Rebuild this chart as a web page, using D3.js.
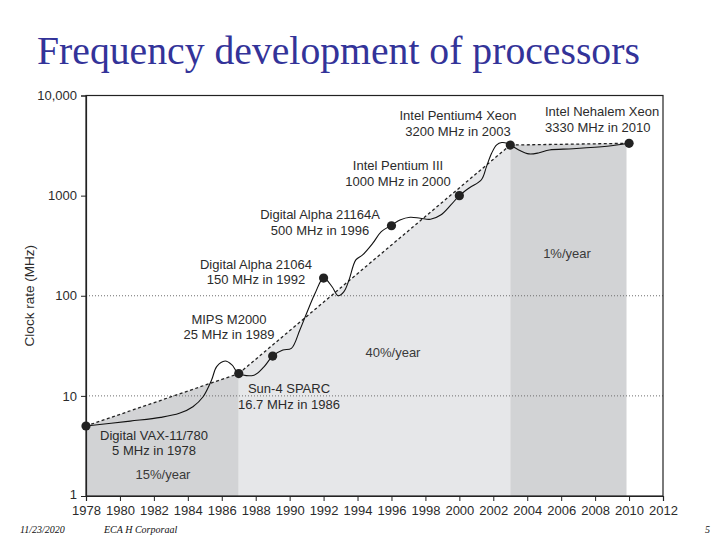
<!DOCTYPE html>
<html><head><meta charset="utf-8">
<script src="https://cdn.jsdelivr.net/npm/d3@7"></script>
<style>
html,body{margin:0;padding:0;background:#fff;}
svg{display:block;}
</style></head>
<body>
<svg id="chart" width="720" height="540"></svg>
<script>
// ---------- DATA ----------
const processorNames = ["Digital VAX-11/780", "Sun-4 SPARC", "MIPS M2000", "Digital Alpha 21064",
  "Digital Alpha 21164A", "Intel Pentium III", "Intel Pentium4 Xeon", "Intel Nehalem Xeon"];
const processorLabelYears = [1978, 1986, 1989, 1992, 1996, 2000, 2003, 2010];
const processorPlotYears = [1978, 1987, 1989, 1992, 1996, 2000, 2003, 2010];
const processorMHz = [5, 16.7, 25, 150, 500, 1000, 3200, 3330];

const curveYears = [1978, 1980.6, 1982.4, 1983.5, 1984.3, 1984.9, 1985.4, 1985.7, 1986.2, 1986.6, 1987,
  1987.9, 1988.5, 1989, 1989.6, 1990.1, 1990.6, 1991, 1991.5, 1992, 1992.5, 1992.85, 1993.2, 1993.5, 1993.9,
  1994.3, 1994.9, 1995.4, 1996, 1996.5, 1997.1, 1997.7, 1998.3, 1998.9, 1999.5, 2000, 2000.6, 2001.3,
  2001.6, 2001.9, 2002.2, 2002.5, 2002.8, 2003, 2003.5, 2004.1, 2004.7, 2005.3, 2006.7, 2008.7, 2010];
const curveMHz = [5, 5.6, 6.1, 6.7, 7.8, 9.8, 14.4, 19.6, 22.3, 20.4, 16.7,
  16.1, 19.6, 25, 28.7, 29.8, 45.5, 66.9, 106, 150, 123, 100, 110, 144, 228,
  256, 335, 437, 506, 571, 608, 594, 580, 640, 807, 1000, 1200, 1440,
  1950, 2650, 3210, 3390, 3340, 3200, 2860, 2610, 2680, 2860, 2940, 3110, 3330];

// growth-rate eras (trend segments between processors)
const eraLabels = ["15%/year", "40%/year", "1%/year"];
const eraStartIdx = [0, 1, 6];
const eraEndIdx = [1, 6, 7];
const eraShadeEnd = [1987, 2003, 2009.85];

const yTickValues = [1, 10, 100, 1000, 10000];
const yTickLabels = ["1", "10", "100", "1000", "10,000"];
const xTickValues = d3.range(1978, 2013, 2);
const gridValues = [10, 100];

// ---------- LAYOUT ----------
const W = 720, H = 540;
const m = {left: 86, right: 57, top: 95.5, bottom: 44};
const svg = d3.select("#chart");
const x = d3.scaleLinear().domain([1978, 2012]).range([m.left, W - m.right]);
const y = d3.scaleLog().domain([1, 10000]).range([H - m.bottom, m.top]);
const font = "'Liberation Sans', Arial, Helvetica, sans-serif";
const textCol = "#2b2b2b";

// Title
svg.append("text").attr("x", 37).attr("y", 64)
  .attr("font-family", "'Liberation Serif','Times New Roman',serif")
  .attr("font-size", 39.7).attr("fill", "#333399")
  .text("Frequency development of processors");

// Shaded eras (under the trend lines)
const eraColors = ["#d2d3d5", "#e6e7e9", "#d2d3d5"];
eraLabels.forEach((lab, i) => {
  const a = eraStartIdx[i], b = eraEndIdx[i];
  const x0 = processorPlotYears[a], x1 = eraShadeEnd[i];
  const la = Math.log10(processorMHz[a]), lb = Math.log10(processorMHz[b]);
  const t = (x1 - processorPlotYears[a]) / (processorPlotYears[b] - processorPlotYears[a]);
  const v1 = Math.pow(10, la + (lb - la) * t);
  const pts = [[x0, 1], [x0, processorMHz[a]], [x1, v1], [x1, 1]];
  svg.append("path")
    .attr("d", d3.line().x(d => x(d[0])).y(d => y(d[1]))(pts) + "Z")
    .attr("fill", eraColors[i]);
});

// Dotted gridlines
svg.selectAll(".grid").data(gridValues).enter().append("line")
  .attr("x1", x(1978)).attr("x2", x(2012))
  .attr("y1", d => y(d)).attr("y2", d => y(d))
  .attr("stroke", "#6e6e6e").attr("stroke-width", 1).attr("stroke-dasharray", "1,2");

// Frame
svg.append("rect").attr("x", x(1978)).attr("y", y(10000))
  .attr("width", x(2012) - x(1978)).attr("height", y(1) - y(10000))
  .attr("fill", "none").attr("stroke", "#222").attr("stroke-width", 1.2);

// Axes
const xAxis = svg.append("g").attr("transform", `translate(0,${y(1)})`)
  .call(d3.axisBottom(x).tickValues(xTickValues).tickFormat(d3.format("d")).tickSize(5).tickPadding(5));
const yAxis = svg.append("g").attr("transform", `translate(${x(1978)},0)`)
  .call(d3.axisLeft(y).tickValues(yTickValues).tickFormat((d, i) => yTickLabels[i]).tickSize(5).tickPadding(4));
[xAxis, yAxis].forEach(g => {
  g.select(".domain").attr("stroke", "#222").attr("stroke-width", 1.2);
  g.selectAll(".tick line").attr("stroke", "#222");
  g.selectAll(".tick text").attr("font-family", font).attr("font-size", 13).attr("fill", textCol);
});
// lift the lowest y label slightly so it clears the first year label
yAxis.selectAll(".tick text").filter(d => d === 1).attr("dy", "0.2em");

svg.append("text").attr("transform", `translate(34,${(y(1) + y(10000)) / 2}) rotate(-90)`)
  .attr("text-anchor", "middle").attr("font-family", font).attr("font-size", 13.5).attr("fill", textCol)
  .text("Clock rate (MHz)");

// Trend (dashed) lines
eraLabels.forEach((lab, i) => {
  const a = eraStartIdx[i], b = eraEndIdx[i];
  svg.append("line")
    .attr("x1", x(processorPlotYears[a])).attr("y1", y(processorMHz[a]))
    .attr("x2", x(processorPlotYears[b])).attr("y2", y(processorMHz[b]))
    .attr("stroke", "#222").attr("stroke-width", 1.3).attr("stroke-dasharray", "3,2.5");
});

// Actual curve
svg.append("path")
  .datum(curveYears.map((yr, i) => [yr, curveMHz[i]]))
  .attr("d", d3.line().x(d => x(d[0])).y(d => y(d[1])).curve(d3.curveCatmullRom.alpha(0.5)))
  .attr("fill", "none").attr("stroke", "#111").attr("stroke-width", 1.1);

// Points
svg.selectAll(".pt").data(processorPlotYears).enter().append("circle")
  .attr("cx", d => x(d)).attr("cy", (d, i) => y(processorMHz[i])).attr("r", 4.6)
  .attr("fill", "#222");

// Processor labels (center x, line-1 y, line-2 y; anchor)
const labelLayout = [
  [154, 435, 450, "middle"],
  [289, 388, 404.5, "middle"],
  [229, 319, 334.5, "middle"],
  [256, 264, 279.5, "middle"],
  [320, 214.5, 230, "middle"],
  [398, 165, 181.5, "middle"],
  [458, 115.5, 131.5, "middle"],
  [545, 111.5, 127, "start"]
];
processorNames.forEach((name, i) => {
  const [lx, l1, l2, anc] = labelLayout[i];
  const t = svg.append("text").attr("font-family", font).attr("font-size", 13)
    .attr("fill", textCol).attr("text-anchor", anc);
  t.append("tspan").attr("x", lx).attr("y", l1).attr("dy", "0.35em").text(name);
  t.append("tspan").attr("x", lx).attr("y", l2).attr("dy", "0.35em")
    .text(`${processorMHz[i]} MHz in ${processorLabelYears[i]}`);
});

// Era rate labels
const eraLabelPos = [[163, 474], [393, 352], [567, 253]];
eraLabels.forEach((lab, i) => {
  svg.append("text").attr("x", eraLabelPos[i][0]).attr("y", eraLabelPos[i][1]).attr("dy", "0.35em")
    .attr("text-anchor", "middle").attr("font-family", font).attr("font-size", 13)
    .attr("fill", "#3a3a3a").text(lab);
});

// Footer
const footFont = "'Liberation Serif','Times New Roman',serif";
[["11/23/2020", 20, "start"], ["ECA  H Corporaal", 104, "start"], ["5", 710, "end"]].forEach(f => {
  svg.append("text").attr("x", f[1]).attr("y", 533).attr("text-anchor", f[2])
    .attr("font-family", footFont).attr("font-style", "italic").attr("font-size", 10)
    .attr("fill", "#111").text(f[0]);
});
</script>
</body></html>
